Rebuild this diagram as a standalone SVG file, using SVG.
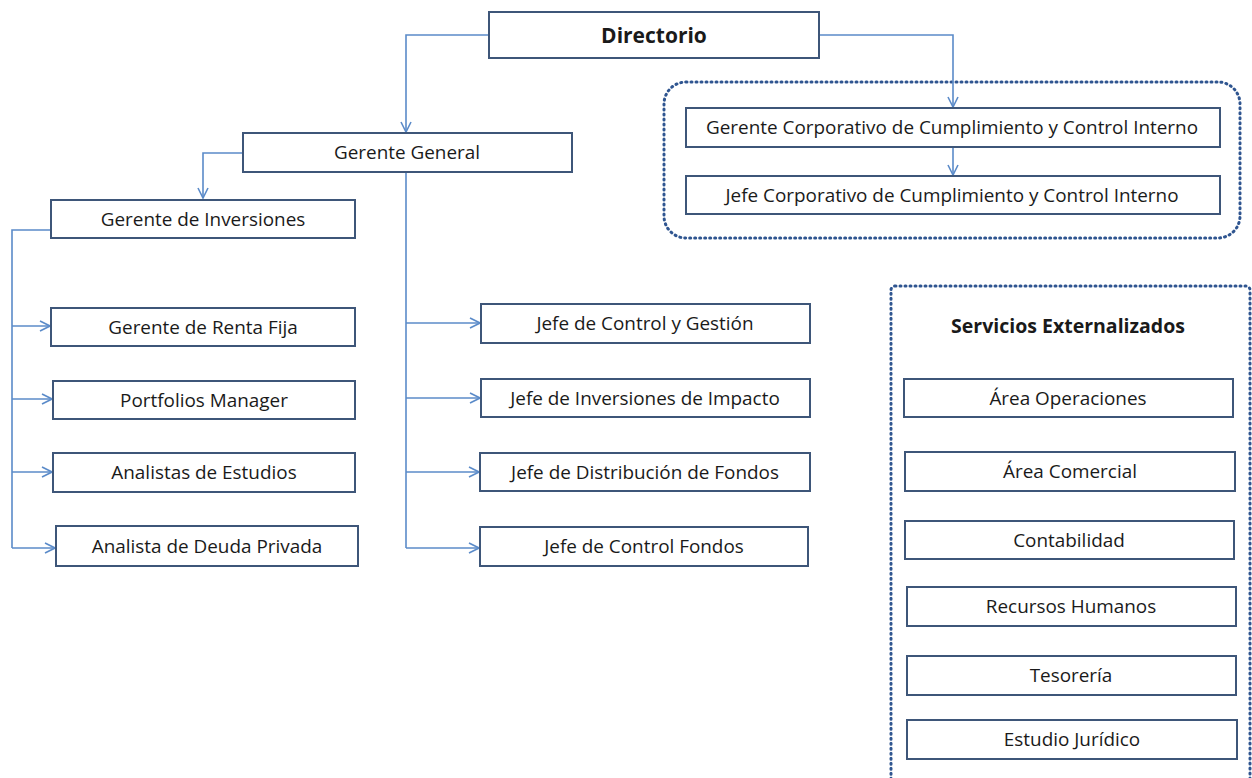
<svg xmlns="http://www.w3.org/2000/svg" width="1252" height="778" viewBox="0 0 1252 778">
<style>
.box{fill:#fff;stroke:#3e5679;stroke-width:2}
.t{font-family:"Open Sans","Liberation Sans",sans-serif;font-size:18.9px;fill:#1a1a1a;text-anchor:middle;dominant-baseline:central}
.b{font-weight:bold}
.c{fill:none;stroke:#5b8bc9;stroke-width:1.6}
.dot{fill:none;stroke:#2f5590;stroke-width:3;stroke-dasharray:1 4;stroke-linecap:round}
</style>
<defs>
<marker id="ah" viewBox="0 0 12 12" refX="11" refY="6" markerWidth="12" markerHeight="12" markerUnits="userSpaceOnUse" orient="auto">
<path d="M1,1 L11,6 L1,11" fill="none" stroke="#5b8bc9" stroke-width="1.6"/>
</marker>
</defs>
<rect class="dot" x="664" y="82" width="576" height="156" rx="22"/>
<rect class="dot" x="891" y="286" width="359" height="500" rx="4"/>
<text class="t b" x="1068" y="325" style="font-size:19.5px">Servicios Externalizados</text>
<g id="connectors">
<path class="c" d="M489,35 H406 V132" marker-end="url(#ah)"/>
<path class="c" d="M819,35 H953 V107" marker-end="url(#ah)"/>
<path class="c" d="M953,147 V175" marker-end="url(#ah)"/>
<path class="c" d="M243,153 H203 V198" marker-end="url(#ah)"/>
<path class="c" d="M51,230 H12 V548"/>
<path class="c" d="M12,326 H50" marker-end="url(#ah)"/>
<path class="c" d="M12,399 H52" marker-end="url(#ah)"/>
<path class="c" d="M12,472 H52" marker-end="url(#ah)"/>
<path class="c" d="M12,548 H55" marker-end="url(#ah)"/>
<path class="c" d="M406,172 V548"/>
<path class="c" d="M406,323 H480" marker-end="url(#ah)"/>
<path class="c" d="M406,398 H480" marker-end="url(#ah)"/>
<path class="c" d="M406,472 H479" marker-end="url(#ah)"/>
<path class="c" d="M406,548 H479" marker-end="url(#ah)"/>
</g>
<g id="directorio"><rect class="box" x="489" y="12" width="330" height="46"/><text class="t b" x="654" y="35" style="font-size:21px">Directorio</text></g>
<g id="gerente-general"><rect class="box" x="243" y="133" width="329" height="39"/><text class="t" x="407" y="152">Gerente General</text></g>
<g id="gerente-corporativo"><rect class="box" x="686" y="108" width="534" height="39"/><text class="t" x="952" y="127">Gerente Corporativo de Cumplimiento y Control Interno</text></g>
<g id="jefe-corporativo"><rect class="box" x="686" y="176" width="534" height="38"/><text class="t" x="952" y="195">Jefe Corporativo de Cumplimiento y Control Interno</text></g>
<g id="gerente-inversiones"><rect class="box" x="51" y="200" width="304" height="38"/><text class="t" x="203" y="219">Gerente de Inversiones</text></g>
<g id="renta-fija"><rect class="box" x="51" y="308" width="304" height="38"/><text class="t" x="203" y="327">Gerente de Renta Fija</text></g>
<g id="portfolios"><rect class="box" x="53" y="381" width="302" height="38"/><text class="t" x="204" y="400">Portfolios Manager</text></g>
<g id="analistas-estudios"><rect class="box" x="53" y="453" width="302" height="39"/><text class="t" x="204" y="472">Analistas de Estudios</text></g>
<g id="analista-deuda"><rect class="box" x="56" y="526" width="302" height="40"/><text class="t" x="207" y="546">Analista de Deuda Privada</text></g>
<g id="jefe-control-gestion"><rect class="box" x="481" y="304" width="329" height="39"/><text class="t" x="645" y="323">Jefe de Control y Gestión</text></g>
<g id="jefe-impacto"><rect class="box" x="481" y="379" width="329" height="38"/><text class="t" x="645" y="398">Jefe de Inversiones de Impacto</text></g>
<g id="jefe-distribucion"><rect class="box" x="480" y="453" width="330" height="38"/><text class="t" x="645" y="472">Jefe de Distribución de Fondos</text></g>
<g id="jefe-control-fondos"><rect class="box" x="480" y="527" width="328" height="39"/><text class="t" x="644" y="546">Jefe de Control Fondos</text></g>
<g id="area-operaciones"><rect class="box" x="904" y="379" width="329" height="38"/><text class="t" x="1068" y="398">Área Operaciones</text></g>
<g id="area-comercial"><rect class="box" x="905" y="452" width="330" height="39"/><text class="t" x="1070" y="471">Área Comercial</text></g>
<g id="contabilidad"><rect class="box" x="905" y="521" width="329" height="38"/><text class="t" x="1069" y="540">Contabilidad</text></g>
<g id="recursos-humanos"><rect class="box" x="907" y="587" width="329" height="39"/><text class="t" x="1071" y="606">Recursos Humanos</text></g>
<g id="tesoreria"><rect class="box" x="907" y="656" width="329" height="39"/><text class="t" x="1071" y="675">Tesorería</text></g>
<g id="estudio-juridico"><rect class="box" x="907" y="720" width="330" height="39"/><text class="t" x="1072" y="739">Estudio Jurídico</text></g>
</svg>
